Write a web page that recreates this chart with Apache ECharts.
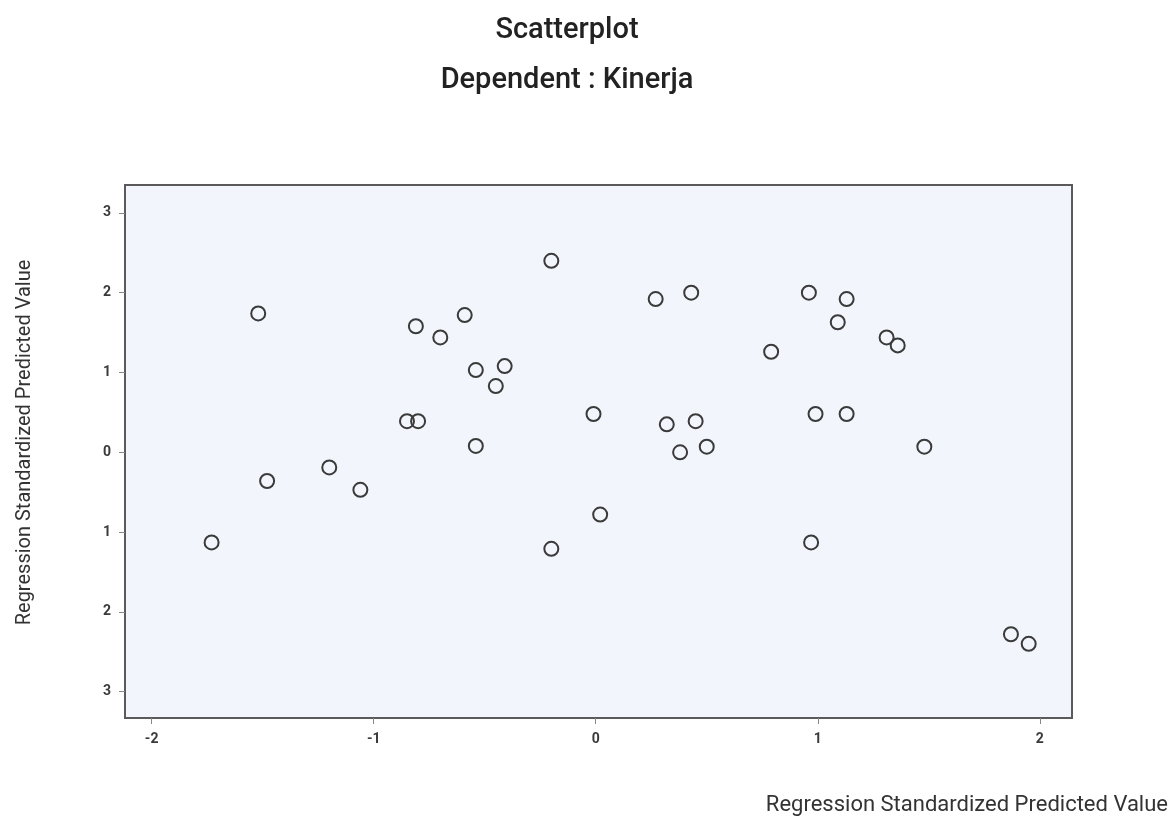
<!DOCTYPE html>
<html>
<head>
<meta charset="utf-8">
<script src="https://cdn.jsdelivr.net/npm/echarts@6/dist/echarts.min.js"></script>
<style>
html,body{margin:0;padding:0;background:#fff;}
#chart{width:1174px;height:818px;}
</style>
</head>
<body>
<div id="chart"></div>
<script>
const titleText = 'Scatterplot';
const subtitleText = 'Dependent : Kinerja';
const xAxisName = 'Regression Standardized Predicted Value';
const yAxisName = 'Regression Standardized Predicted Value';

const xTicks = [-2, -1, 0, 1, 2];
const xTickLabels = ['-2', '-1', '0', '1', '2'];
const yTicks = [3, 2, 1, 0, -1, -2, -3];
const yTickLabels = ['3', '2', '1', '0', '1', '2', '3'];

const xValues = [-1.73, -1.52, -1.48, -1.20, -1.06, -0.85, -0.80, -0.81, -0.70, -0.59,
                 -0.54, -0.41, -0.45, -0.54, -0.20, -0.20, -0.01, 0.02, 0.27, 0.43,
                 0.32, 0.45, 0.38, 0.50, 0.79, 0.96, 1.13, 1.09, 1.31, 1.36,
                 0.99, 1.13, 1.48, 0.97, 1.87, 1.95];
const yValues = [-1.13, 1.74, -0.36, -0.19, -0.47, 0.39, 0.39, 1.58, 1.44, 1.72,
                 1.03, 1.08, 0.83, 0.08, 2.40, -1.21, 0.48, -0.78, 1.92, 2.00,
                 0.35, 0.39, 0.00, 0.07, 1.26, 2.00, 1.92, 1.63, 1.44, 1.34,
                 0.48, 0.48, 0.07, -1.13, -2.28, -2.40];

const points = xValues.map((x, i) => [x, yValues[i]]);

const chart = echarts.init(document.getElementById('chart'), null, {renderer: 'canvas'});
const labelFont = {fontFamily: 'Roboto', fontSize: 14, fontWeight: 'bold', color: '#3a3a3a'};

chart.setOption({
  animation: false,
  backgroundColor: '#ffffff',
  title: [
    {text: titleText, left: 562, top: 11, textAlign: 'center',
     textStyle: {fontFamily: 'Roboto', fontSize: 29, fontWeight: 500, color: '#222'}},
    {text: subtitleText, left: 562, top: 61, textAlign: 'center',
     textStyle: {fontFamily: 'Roboto', fontSize: 29, fontWeight: 500, color: '#222'}}
  ],
  grid: {
    left: 125, right: 102, top: 185, bottom: 100,
    show: true, backgroundColor: '#f2f5fb', borderColor: '#5a5a5a', borderWidth: 2
  },
  xAxis: {
    type: 'value', min: -2.12, max: 2.145,
    splitLine: {show: false},
    axisLine: {show: false, onZero: false},
    axisTick: {show: true, length: 6, customValues: xTicks, lineStyle: {color: '#888'}},
    axisLabel: {customValues: xTicks, margin: 14,
      formatter: v => xTickLabels[xTicks.indexOf(Math.round(v))], ...labelFont},
    name: xAxisName, nameLocation: 'end', nameGap: 96,
    nameTextStyle: {fontFamily: 'Roboto', fontSize: 22, color: '#333', align: 'right',
      verticalAlign: 'top', padding: [76, 0, 0, 0]}
  },
  yAxis: {
    type: 'value', min: -3.33, max: 3.35,
    splitLine: {show: false},
    axisLine: {show: false, onZero: false},
    axisTick: {show: true, length: 6, customValues: yTicks, lineStyle: {color: '#888'}},
    axisLabel: {customValues: yTicks, margin: 14,
      formatter: v => yTickLabels[yTicks.indexOf(Math.round(v))], ...labelFont},
    name: yAxisName, nameLocation: 'middle', nameRotate: 90, nameGap: 90,
    nameTextStyle: {fontFamily: 'Roboto', fontSize: 20, color: '#333', padding: [0, 0, 0, 18]}
  },
  series: [{
    type: 'scatter',
    data: points,
    symbol: 'circle',
    symbolSize: 14,
    itemStyle: {color: 'rgba(0,0,0,0)', borderColor: '#3a3a3a', borderWidth: 2, opacity: 1}
  }]
});
</script>
</body>
</html>
